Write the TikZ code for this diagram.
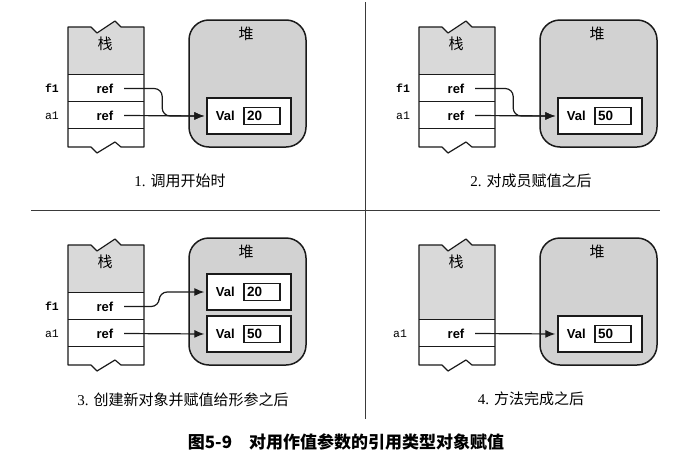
\documentclass[tikz,border=0pt]{standalone}
\usepackage{fontspec}
\setmainfont{Liberation Serif}
\setsansfont{Liberation Sans}
\setmonofont{Liberation Mono}
\newfontfamily\cjk{Noto Sans CJK SC}
\usepackage{xcolor}
\usetikzlibrary{calc,arrows.meta,positioning}
\definecolor{paper}{HTML}{FFFFFF}
\definecolor{ink}{HTML}{1A1A1A}
\definecolor{rulec}{HTML}{3A3A3A}
\definecolor{stackbg}{HTML}{D9D9D9}
\definecolor{heapbg}{HTML}{D2D2D2}
\newcommand{\stackpath}{(68,27) -- (91,27) -- (97,33) -- (115,21) -- (121,27) -- (144,27)
  -- (144,147) -- (121,147) -- (115,142) -- (97,153) -- (91,147) -- (68,147) -- cycle}
\tikzset{
  base/.style={draw=ink, line width=1.2pt, line join=round},
  rule/.style={draw=rulec, line width=0.9pt},
  heap/.style={draw=ink, fill=heapbg, line width=1.5pt, rounded corners=20pt,
    minimum width=117pt, minimum height=127pt, inner sep=0pt},
  valbox/.style={draw=ink, fill=white, line width=1.3pt, minimum width=84pt,
    minimum height=36pt, inner sep=0pt},
  numbox/.style={draw=ink, fill=white, line width=1.3pt, anchor=west, inner sep=3pt,
    text width=30pt, minimum height=17pt, align=left,
    font=\sffamily\bfseries\fontsize{13.5}{13.5}\selectfont},
  vallab/.style={font=\sffamily\bfseries\fontsize{13}{13}\selectfont, inner sep=0pt},
  reflab/.style={font=\sffamily\bfseries\fontsize{13}{13}\selectfont, minimum width=38pt, inner sep=0pt},
  varf/.style={font=\ttfamily\bfseries\fontsize{11.5}{12}\selectfont},
  vara/.style={font=\ttfamily\fontsize{11.5}{12}\selectfont},
  cjklab/.style={font=\cjk\fontsize{15}{15}\selectfont},
  caplab/.style={font=\fontsize{15}{15}\selectfont},
  titlelab/.style={font=\cjk\bfseries\fontsize{17}{17}\selectfont},
  arr/.style={draw=ink, line width=1.2pt, -{Latex[length=10pt,width=8pt]},
    shorten >=2pt, rounded corners=8pt},
}

\begin{document}
\begin{tikzpicture}[x=1pt, y=-1pt]
\useasboundingbox[fill=paper] (0,0) rectangle (690,466);

% separators
\draw[rule] (31,210) -- (660,210);
\draw[rule] (365,2) -- (365,419);

% stacks and heaps
\foreach \dx/\dy/\gb/\i in {0/0/74.5/A, 351/0/74.5/B, 0/218/74.5/C, 351/218/101.5/D}{
  \begin{scope}[shift={(\dx,\dy)}]
    \path[fill=white] \stackpath;
    \fill[stackbg] (68,\gb) -- (68,27) -- (91,27) -- (97,33) -- (115,21) -- (121,27)
      -- (144,27) -- (144,\gb) -- cycle;
    \foreach \y in {\gb,101.5,128.5}
      \draw[base] (68,\y) -- (144,\y);
    \draw[base] \stackpath;
    \node[cjklab] (stk\i) at (105,44) {栈};
    \node[heap] (heap\i) at (247.5,83.5) {};
    \node[cjklab] (hp\i) at (246,34) {堆};
  \end{scope}
}

% 1
\begin{scope}
  \node[varf] (fA) at (52,88.5) {f1};
  \node[vara] (aA) at (52,115.5) {a1};
  \node[reflab] (rfA) at (105,88.5) {ref};
  \node[reflab] (raA) at (105,115.5) {ref};
  \node[valbox] (vA) at (249,116) {};
  \node[vallab] (lA) at ($(vA.west)+(19,0)$) {Val};
  \node[numbox] (nA) at ($(vA.west)+(37,0)$) {20};
  \draw[arr] (raA.east) -- (vA.west);
  \draw[arr] (rfA.east) -- ($(rfA.east)+(38,0)$) |- (vA.west);
  \node[caplab] (capA) at (180,181) {1. {\cjk 调用开始时}};
\end{scope}

% 2
\begin{scope}[shift={(351,0)}]
  \node[varf] (fB) at (52,88.5) {f1};
  \node[vara] (aB) at (52,115.5) {a1};
  \node[reflab] (rfB) at (105,88.5) {ref};
  \node[reflab] (raB) at (105,115.5) {ref};
  \node[valbox] (vB) at (249,116) {};
  \node[vallab] (lB) at ($(vB.west)+(19,0)$) {Val};
  \node[numbox] (nB) at ($(vB.west)+(37,0)$) {50};
  \draw[arr] (raB.east) -- (vB.west);
  \draw[arr] (rfB.east) -- ($(rfB.east)+(38,0)$) |- (vB.west);
  \node[caplab] (capB) at (180,181) {2. {\cjk 对成员赋值之后}};
\end{scope}

% 3
\begin{scope}[shift={(0,218)}]
  \node[varf] (fC) at (52,88.5) {f1};
  \node[vara] (aC) at (52,115.5) {a1};
  \node[reflab] (rfC) at (105,88.5) {ref};
  \node[reflab] (raC) at (105,115.5) {ref};
  \node[valbox] (vC1) at (249,74) {};
  \node[vallab] (lC1) at ($(vC1.west)+(19,0)$) {Val};
  \node[numbox] (nC1) at ($(vC1.west)+(37,0)$) {20};
  \node[valbox] (vC2) at (249,116) {};
  \node[vallab] (lC2) at ($(vC2.west)+(19,0)$) {Val};
  \node[numbox] (nC2) at ($(vC2.west)+(37,0)$) {50};
  \draw[arr] (raC.east) -- (vC2.west);
  \draw[arr] (rfC.east) -- ($(rfC.east)+(35,0)$) |- (vC1.west);
  \node[caplab] (capC) at (183,182) {3. {\cjk 创建新对象并赋值给形参之后}};
\end{scope}

% 4
\begin{scope}[shift={(351,218)}]
  \node[vara] (aD) at (49,115.5) {a1};
  \node[reflab] (raD) at (105,115.5) {ref};
  \node[valbox] (vD) at (249,116) {};
  \node[vallab] (lD) at ($(vD.west)+(19,0)$) {Val};
  \node[numbox] (nD) at ($(vD.west)+(37,0)$) {50};
  \draw[arr] (raD.east) -- (vD.west);
  \node[caplab] (capD) at (180,181) {4. {\cjk 方法完成之后}};
\end{scope}

\node[titlelab] (title) at (346,442) {图5-9\quad 对用作值参数的引用类型对象赋值};
\end{tikzpicture}
\end{document}
